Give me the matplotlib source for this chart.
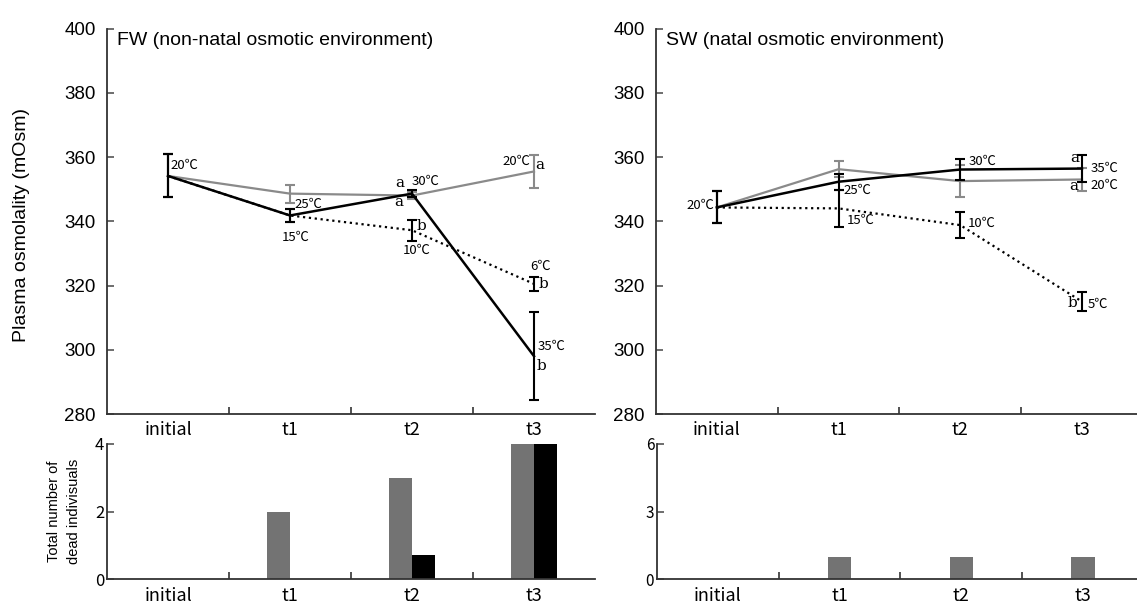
import numpy as np
import matplotlib
matplotlib.use("Agg")
import matplotlib.pyplot as plt

# data
categories = ["initial", "t1", "t2", "t3"]

# FW panel (plasma osmolality, mOsm)
fw_ctrl = [354.1, 348.6, 348.0, 355.5]      # 20C throughout (gray)
fw_ctrl_err = [6.7, 2.8, 1.0, 5.2]
fw_warm = [354.1, 341.8, 348.6, 298.0]      # 20-25-30-35C (black)
fw_warm_err = [6.7, 1.9, 1.2, 13.6]
fw_cold = [354.1, 341.8, 337.2, 320.5]      # 20-15-10-6C (dotted)
fw_cold_err = [6.7, 1.9, 3.3, 2.2]

# SW panel
sw_ctrl = [344.3, 356.2, 352.5, 353.0]
sw_ctrl_err = [5.0, 2.5, 5.0, 3.5]
sw_warm = [344.3, 352.3, 356.1, 356.4]
sw_warm_err = [5.0, 2.5, 3.4, 4.2]
sw_cold = [344.3, 344.0, 338.8, 315.0]
sw_cold_err = [5.0, 5.7, 4.0, 3.0]

# dead fish counts
fw_dead_gray = [0, 2, 3, 4]
fw_dead_black = [0, 0, 0.7, 4]
sw_dead_gray = [0, 1, 1, 1]

GRAY_LINE = "#8a8a8a"
GRAY_BAR = "#737373"
SPINE = "#333333"
CAT_FONT = ["Noto Sans CJK JP", "DejaVu Sans"]
NOTE_FONT = ["Noto Sans CJK JP", "DejaVu Sans"]
LETTER_FONT = "DejaVu Serif"

plt.rcParams["font.family"] = ["Liberation Sans", "DejaVu Sans"]

W, H = 1137, 608
fig = plt.figure(figsize=(W / 100, H / 100), dpi=100)

x = np.arange(len(categories)) + 0.5


def fx(px):
    return px / W


def fy(py):
    return 1 - py / H


def style_axes(ax, xmax, pad=5):
    for s in ["top", "right"]:
        ax.spines[s].set_visible(False)
    for s in ["left", "bottom"]:
        ax.spines[s].set_color(SPINE)
        ax.spines[s].set_linewidth(1.3)
    ax.set_xlim(0, xmax)
    ax.set_xticks([1, 2, 3])
    ax.set_xticklabels([])
    ax.set_xticks(x, minor=True)
    ax.set_xticklabels(categories, minor=True, fontfamily=CAT_FONT, fontsize=13)
    ax.tick_params(axis="x", which="major", direction="in", length=5, color=SPINE, width=1.2)
    ax.tick_params(axis="x", which="minor", length=0, pad=pad)
    ax.tick_params(axis="y", direction="in", length=5, color="#555555", width=1.2)


def draw_lines(ax, ctrl, ctrl_err, warm, warm_err, cold, cold_err):
    ax.errorbar(x, ctrl, yerr=ctrl_err, color=GRAY_LINE, lw=1.6, capsize=3.5,
                capthick=1.5, elinewidth=1.5, zorder=2)
    ax.errorbar(x, cold, yerr=cold_err, color="black", lw=1.6, ls=":", capsize=3.5,
                capthick=1.5, elinewidth=1.5, zorder=3)
    ax.errorbar(x, warm, yerr=warm_err, color="black", lw=1.8, capsize=3.5,
                capthick=1.5, elinewidth=1.5, zorder=4)
    ax.set_ylim(280, 400)
    ax.set_yticks(np.arange(280, 401, 20))
    ax.tick_params(axis="y", labelsize=13.5, pad=8)


# ---------- FW top panel ----------
ax1 = fig.add_axes([fx(107), fy(414), fx(488), (414 - 28.5) / H])
style_axes(ax1, 4)
draw_lines(ax1, fw_ctrl, fw_ctrl_err, fw_warm, fw_warm_err, fw_cold, fw_cold_err)
ax1.text(0.02, 0.97, "FW (non-natal osmotic environment)", transform=ax1.transAxes,
         fontsize=14, va="center", ha="left")

nt = dict(fontfamily=NOTE_FONT, fontsize=9.5, va="center")
lt = dict(fontfamily=LETTER_FONT, fontsize=11, va="center")
ax1.text(0.52, 357.5, "20℃", ha="left", **nt)
ax1.text(1.54, 345.3, "25℃", ha="left", **nt)
ax1.text(1.55, 335.0, "15℃", ha="center", **nt)
ax1.text(2.44, 352.0, "a", ha="right", **lt)
ax1.text(2.50, 352.3, "30℃", ha="left", **nt)
ax1.text(2.43, 346.0, "a", ha="right", **lt)
ax1.text(2.54, 338.5, "b", ha="left", **lt)
ax1.text(2.54, 331.0, "10℃", ha="center", **nt)
ax1.text(3.47, 358.5, "20℃", ha="right", **nt)
ax1.text(3.51, 357.5, "a", ha="left", **lt)
ax1.text(3.55, 325.8, "6℃", ha="center", **nt)
ax1.text(3.54, 320.5, "b", ha="left", **lt)
ax1.text(3.53, 301.0, "35℃", ha="left", **nt)
ax1.text(3.52, 295.0, "b", ha="left", **lt)

# ---------- SW top panel ----------
xmax_r = (W - 656) / 121.7
ax2 = fig.add_axes([fx(656), fy(414), fx(W - 656), (414 - 28.5) / H])
style_axes(ax2, xmax_r)
draw_lines(ax2, sw_ctrl, sw_ctrl_err, sw_warm, sw_warm_err, sw_cold, sw_cold_err)
ax2.text(0.02, 0.97, "SW (natal osmotic environment)", transform=ax2.transAxes,
         fontsize=14, va="center", ha="left")

ax2.text(0.48, 345.0, "20℃", ha="right", **nt)
ax2.text(1.54, 349.7, "25℃", ha="left", **nt)
ax2.text(1.57, 340.3, "15℃", ha="left", **nt)
ax2.text(2.57, 358.5, "30℃", ha="left", **nt)
ax2.text(2.56, 339.4, "10℃", ha="left", **nt)
ax2.text(3.48, 359.8, "a", ha="right", **lt)
ax2.text(3.57, 356.4, "35℃", ha="left", **nt)
ax2.text(3.47, 351.0, "a", ha="right", **lt)
ax2.text(3.57, 351.3, "20℃", ha="left", **nt)
ax2.text(3.46, 314.5, "b", ha="right", **lt)
ax2.text(3.55, 314.0, "5℃", ha="left", **nt)

fig.text(0.019, fy(225), "Plasma osmolality (mOsm)", rotation=90, fontsize=14,
         ha="center", va="center")

# ---------- bottom bar panels ----------
w = 0.19
ax3 = fig.add_axes([fx(107), fy(579), fx(488), (579 - 444) / H])
style_axes(ax3, 4, pad=6)
ax3.bar(x - w / 2, fw_dead_gray, width=w, color=GRAY_BAR)
ax3.bar(x + w / 2, fw_dead_black, width=w, color="black")
ax3.set_ylim(0, 4)
ax3.set_yticks([0, 2, 4])
ax3.set_yticklabels(["0", "2", "4"], fontfamily=CAT_FONT, fontsize=12)
ax3.tick_params(axis="y", pad=2)
ax3.set_ylabel("Total number of\ndead indivisuals", fontsize=10.5, labelpad=10,
               linespacing=1.5)

ax4 = fig.add_axes([fx(657), fy(579), fx(W - 657), (579 - 444) / H])
style_axes(ax4, (W - 657) / 121.7, pad=6)
ax4.bar(x, sw_dead_gray, width=w, color=GRAY_BAR)
ax4.set_ylim(0, 6)
ax4.set_yticks([0, 3, 6])
ax4.set_yticklabels(["0", "3", "6"], fontfamily=CAT_FONT, fontsize=11)
ax4.tick_params(axis="y", pad=2)

fig.savefig("out.png", dpi=100)
